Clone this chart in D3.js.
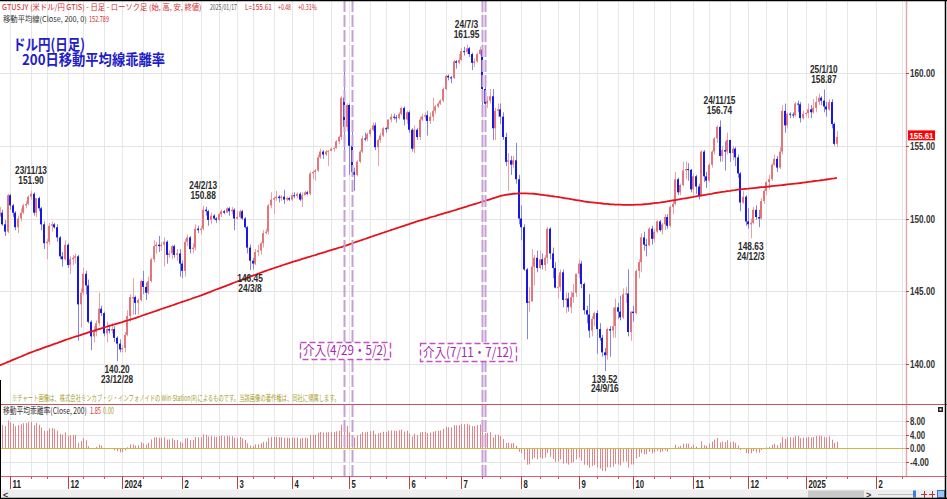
<!DOCTYPE html>
<html>
<head>
<meta charset="utf-8">
<title>ドル円(日足) 200日移動平均線乖離率</title>
<script src="https://d3js.org/d3.v7.min.js"></script>
<style>
  body { margin: 0; background: #fff; }
  #chart svg { display: block; }
  .jp { font-family: "Noto Sans CJK JP", sans-serif; }
  .num { font-family: "Liberation Sans", "DejaVu Sans", sans-serif; font-weight: bold; }
</style>
</head>
<body>
<div id="chart"></div>
<script>
// one value per weekday from firstDay to lastDay
const firstDay = "2023-10-26";
const lastDay = "2025-01-17";
const axisEnd = "2025-02-20"; // empty calendar days right of the last candle

const opens = [
  150.2, 150.4, 149.6, 149.1,
  151.6, 150.9, 150.4, 149.4, 150.0, 150.4, 150.9, 151.0, 151.5, 151.7, 150.4, 151.4, 150.7, 149.6, 148.3, 148.4, 149.5, 149.6, 149.4, 148.7, 147.4, 147.2,
  148.2, 146.8, 147.2, 147.3, 147.4, 144.1, 144.9, 146.2, 145.4, 142.9, 141.9, 142.2, 142.8, 143.8, 143.5, 142.1, 142.4, 142.3, 142.4, 141.8, 141.4,
  141.0, 141.1, 142.0, 143.3, 144.5, 144.6, 144.2, 144.4, 145.7, 145.3, 144.9, 145.7, 147.2, 148.1, 148.2, 148.1, 148.2, 148.4, 147.5, 147.6, 148.1, 147.5, 147.6,
  146.9, 146.4, 148.4, 148.7, 147.9, 148.0, 149.3, 149.2, 149.3, 150.6, 150.5, 149.9, 150.2, 150.0, 149.9, 150.3, 150.5, 150.4, 150.7, 150.5, 150.6,
  150.0, 150.1, 150.5, 150.0, 149.4, 148.0, 147.1, 146.9, 147.7, 147.8, 148.3, 149.0, 149.1, 150.9, 151.3, 151.4, 151.5, 151.4, 151.5, 151.3, 151.4,
  151.3, 151.6, 151.55, 151.7, 151.3, 151.6, 151.8, 151.7, 153.1, 153.2, 153.3, 154.2, 154.6, 154.4, 154.6, 154.65, 154.8, 154.85, 155.3, 155.6, 158.3, 156.3,
  157.8, 155.0, 153.2, 153.0, 153.9, 154.6, 155.5, 155.45, 155.8, 156.1, 156.4, 154.9, 155.4, 155.7, 156.2, 156.15, 156.8, 157.0, 156.95, 156.9, 157.2, 157.6, 156.8,
  157.3, 156.1, 154.8, 156.1, 155.6, 156.8, 157.0, 157.1, 156.7, 157.0, 157.4, 157.7, 157.9, 158.1, 158.9, 159.8, 159.7, 159.65, 160.8, 160.7,
  160.9, 161.5, 161.45, 161.7, 161.3, 160.7, 160.8, 161.3, 161.6, 158.9, 157.9, 158.1, 158.4, 156.2, 157.4, 157.5, 157.0, 155.6, 153.9, 154.0, 153.7, 154.0, 152.7,
  150.0, 149.4, 146.5, 144.2, 144.3, 146.7, 147.3, 146.6, 147.2, 146.8, 147.3, 149.3, 147.6, 146.6, 145.25, 145.3, 146.3, 144.4, 144.5, 143.9, 144.6, 144.9,
  146.2, 146.9, 145.5, 143.7, 143.4, 142.3, 143.1, 143.5, 142.4, 141.8, 140.8, 140.6, 142.4, 142.3, 142.6, 143.9, 143.6, 143.2, 144.8, 144.85, 142.2,
  143.6, 143.5, 146.4, 147.0, 148.7, 148.2, 148.15, 149.3, 148.6, 149.1, 149.8, 149.2, 149.6, 150.1, 149.5, 150.8, 151.0, 152.7, 151.8, 152.3, 153.3, 153.4, 153.35,
  152.0, 152.9, 152.2, 151.6, 154.6, 152.9, 152.6, 153.7, 154.6, 155.5, 156.3, 154.3, 154.7, 154.6, 155.4, 154.5, 154.8, 154.2, 153.1, 151.1, 151.5,
  149.8, 149.6, 149.7, 150.6, 150.1, 150.0, 151.2, 151.9, 152.5, 152.7, 153.7, 154.1, 153.5, 154.6, 157.4, 156.4, 157.2, 157.15, 157.1, 157.9, 157.85, 156.9,
  157.2, 157.25, 157.5, 157.3, 157.6, 158.0, 158.3, 158.1, 157.7, 157.5, 158.0, 156.5, 155.13
];
const highs = [
  150.8, 150.6, 149.9, 151.7,
  151.7, 151.0, 150.5, 150.2, 150.7, 151.0, 151.2, 151.6, 151.90, 151.8, 151.4, 151.5, 150.8, 149.8, 148.6, 149.7, 149.8, 149.7, 149.6, 148.8, 147.7, 148.5,
  148.3, 147.4, 147.5, 147.6, 147.5, 145.2, 146.6, 146.4, 145.8, 143.0, 142.6, 143.0, 144.9, 144.0, 143.6, 142.9, 142.6, 142.8, 142.6, 141.9, 141.7,
  141.3, 142.2, 143.7, 144.8, 145.9, 144.7, 144.5, 145.8, 146.4, 145.6, 146.0, 147.3, 148.5, 148.4, 148.8, 148.4, 148.7, 148.5, 147.8, 148.2, 148.2, 147.9, 147.9,
  147.1, 148.6, 148.9, 148.8, 148.3, 149.6, 149.5, 149.5, 150.88, 150.8, 150.6, 150.4, 150.3, 150.1, 150.4, 150.6, 150.6, 150.8, 150.8, 150.8, 150.7,
  150.5, 150.6, 150.6, 150.1, 149.5, 148.2, 147.3, 147.9, 148.2, 148.4, 149.2, 149.3, 151.0, 151.8, 151.5, 151.9, 151.6, 151.6, 151.97, 151.5, 151.5,
  151.8, 151.8, 151.8, 151.8, 151.8, 151.9, 151.9, 153.2, 153.3, 153.4, 154.4, 154.8, 154.7, 154.7, 154.7, 154.9, 154.9, 155.4, 155.7, 158.4, 160.2, 157.9,
  157.9, 156.0, 153.5, 154.0, 154.7, 155.7, 155.9, 155.9, 156.2, 156.6, 156.6, 155.5, 155.9, 156.3, 156.3, 156.8, 157.2, 157.2, 157.1, 157.3, 157.7, 157.7, 157.4,
  157.4, 156.2, 156.4, 156.2, 157.0, 157.2, 157.3, 157.4, 157.3, 158.3, 157.8, 158.0, 158.2, 159.0, 159.9, 159.9, 159.8, 160.9, 160.9, 161.3,
  161.7, 161.8, 161.95, 161.8, 161.4, 161.0, 161.4, 161.8, 161.8, 159.4, 158.4, 158.9, 158.9, 157.6, 157.9, 157.9, 157.3, 155.9, 154.5, 154.3, 154.3, 155.2, 153.0,
  150.9, 149.6, 146.6, 145.3, 147.9, 147.5, 147.8, 147.8, 147.6, 147.5, 149.4, 149.4, 148.0, 147.0, 146.1, 146.5, 146.5, 144.9, 144.9, 145.0, 145.5, 146.2,
  147.2, 147.1, 145.6, 144.0, 144.8, 143.3, 143.6, 143.7, 142.8, 142.0, 141.1, 142.5, 142.6, 143.9, 144.5, 144.2, 144.7, 145.2, 145.3, 146.5, 143.6,
  144.0, 146.5, 147.2, 149.0, 149.1, 148.6, 149.4, 149.5, 149.3, 149.9, 149.9, 149.7, 150.3, 150.3, 150.9, 151.2, 153.2, 152.8, 152.4, 153.9, 153.9, 153.8, 153.4,
  153.1, 153.0, 152.4, 154.7, 154.7, 153.2, 153.8, 154.7, 155.6, 156.4, 156.74, 155.0, 155.3, 155.9, 155.4, 155.0, 154.9, 154.4, 153.2, 151.9, 151.6,
  150.7, 150.0, 150.8, 150.9, 150.6, 151.4, 152.0, 152.6, 153.0, 153.8, 154.4, 154.3, 154.9, 157.8, 157.9, 157.3, 157.3, 157.3, 158.0, 158.1, 158.0, 157.4,
  157.3, 157.9, 157.8, 158.2, 158.4, 158.6, 158.4, 158.87, 158.0, 158.2, 158.2, 156.6, 156.0
];
const lows = [
  150.1, 149.5, 148.8, 149.0,
  150.6, 150.1, 149.2, 149.0, 149.8, 150.3, 150.7, 150.9, 151.3, 150.2, 150.1, 150.5, 149.2, 147.9, 147.2, 148.2, 149.1, 149.3, 148.4, 147.2, 146.7, 147.1,
  146.6, 146.2, 146.8, 146.9, 141.6, 142.5, 144.7, 144.8, 142.8, 140.95, 141.5, 141.9, 142.6, 143.3, 141.9, 141.5, 142.1, 142.1, 141.5, 140.2, 140.8,
  140.8, 140.8, 141.9, 142.9, 143.4, 143.4, 143.4, 144.3, 144.8, 144.4, 144.8, 145.6, 147.0, 147.6, 147.7, 147.8, 146.7, 146.9, 147.3, 147.2, 147.3, 147.1, 146.0,
  145.9, 146.0, 148.1, 147.6, 147.6, 147.8, 149.0, 148.9, 149.2, 150.2, 149.5, 149.6, 149.9, 149.7, 149.8, 150.1, 150.3, 150.4, 150.2, 150.3, 149.2,
  149.9, 150.0, 149.9, 149.3, 147.6, 146.45, 146.5, 146.8, 147.4, 147.5, 148.0, 148.9, 148.9, 150.7, 150.3, 151.2, 151.1, 151.2, 151.0, 151.2, 151.2,
  151.2, 151.4, 151.4, 151.2, 150.8, 151.6, 151.6, 151.6, 152.7, 152.6, 153.2, 154.1, 154.1, 154.3, 153.6, 154.6, 154.6, 154.8, 155.1, 155.4, 154.5, 156.0,
  153.0, 153.0, 151.9, 152.9, 153.8, 154.5, 155.3, 155.3, 155.6, 156.0, 154.7, 153.6, 155.2, 155.6, 155.9, 156.1, 156.6, 156.8, 156.6, 156.8, 157.1, 156.4, 156.5,
  155.9, 154.6, 154.5, 155.4, 155.4, 156.7, 156.8, 155.7, 156.5, 156.7, 157.2, 157.6, 157.8, 158.0, 158.8, 159.5, 159.3, 159.6, 160.3, 160.6,
  160.8, 161.2, 161.3, 161.1, 160.2, 160.4, 160.7, 161.2, 157.4, 157.4, 157.6, 157.9, 155.4, 155.4, 157.0, 156.5, 155.4, 153.6, 151.9, 153.0, 153.5, 152.4, 149.6,
  148.5, 146.4, 141.7, 143.6, 144.3, 145.4, 146.3, 146.5, 146.5, 146.4, 146.9, 147.2, 145.9, 145.2, 144.5, 145.0, 143.9, 143.5, 143.6, 143.5, 144.2, 144.6,
  145.9, 145.2, 143.4, 142.8, 141.8, 141.9, 142.6, 140.7, 141.6, 140.5, 139.52, 140.3, 140.5, 141.8, 141.8, 143.1, 143.0, 143.1, 144.2, 141.9, 141.6,
  142.9, 143.4, 145.9, 146.3, 147.8, 147.4, 148.1, 148.2, 148.4, 149.0, 149.1, 148.9, 149.2, 149.3, 149.4, 150.3, 150.9, 151.6, 151.6, 152.2, 152.7, 152.6, 151.8,
  151.6, 151.7, 151.3, 151.6, 152.5, 152.1, 152.5, 153.5, 154.4, 155.2, 153.9, 153.9, 153.3, 154.4, 153.9, 154.0, 153.6, 152.8, 150.5, 151.0, 149.5,
  149.3, 148.63, 149.6, 149.9, 149.4, 149.9, 151.0, 151.6, 152.0, 152.6, 153.6, 153.2, 153.4, 154.4, 155.9, 156.2, 156.9, 156.9, 157.0, 157.3, 156.6, 156.8,
  157.0, 156.9, 156.9, 157.2, 157.3, 157.8, 157.8, 157.3, 157.0, 157.4, 156.2, 155.0, 154.9
];
const closes = [
  150.4, 149.6, 149.1, 151.6,
  150.9, 150.4, 149.4, 150.0, 150.4, 150.9, 151.0, 151.5, 151.7, 150.4, 151.4, 150.7, 149.6, 148.3, 148.4, 149.5, 149.6, 149.4, 148.7, 147.4, 147.2, 148.2,
  146.8, 147.2, 147.3, 147.4, 144.1, 144.9, 146.2, 145.4, 142.9, 141.9, 142.2, 142.8, 143.8, 143.5, 142.1, 142.4, 142.3, 142.4, 141.8, 141.4, 141.0,
  141.1, 142.0, 143.3, 144.6, 144.6, 144.2, 144.4, 145.7, 145.3, 144.9, 145.7, 147.2, 148.1, 148.2, 148.1, 148.2, 148.4, 147.5, 147.6, 148.1, 147.5, 147.6, 146.9,
  146.4, 148.4, 148.7, 147.9, 148.0, 149.3, 149.2, 149.3, 150.6, 150.5, 149.9, 150.2, 150.0, 149.9, 150.3, 150.5, 150.4, 150.7, 150.5, 150.6, 150.0,
  150.1, 150.5, 150.0, 149.4, 148.0, 147.1, 146.9, 147.7, 147.8, 148.3, 149.0, 149.1, 150.9, 151.3, 151.4, 151.5, 151.4, 151.5, 151.3, 151.4, 151.3,
  151.6, 151.55, 151.7, 151.3, 151.6, 151.8, 151.7, 153.1, 153.2, 153.3, 154.2, 154.6, 154.4, 154.6, 154.65, 154.8, 154.85, 155.3, 155.6, 158.3, 156.3, 157.8,
  155.0, 153.2, 153.0, 153.9, 154.6, 155.5, 155.45, 155.8, 156.1, 156.4, 154.9, 155.4, 155.7, 156.2, 156.15, 156.8, 157.0, 156.95, 156.9, 157.2, 157.6, 156.8, 157.3,
  156.1, 154.8, 156.1, 155.6, 156.8, 157.0, 157.1, 156.7, 157.0, 157.4, 157.7, 157.9, 158.1, 158.9, 159.8, 159.7, 159.65, 160.8, 160.7, 160.9,
  161.5, 161.45, 161.7, 161.3, 160.7, 160.8, 161.3, 161.6, 158.9, 157.9, 158.1, 158.4, 156.2, 157.4, 157.5, 157.0, 155.6, 153.9, 154.0, 153.7, 154.0, 152.7, 150.0,
  149.4, 146.5, 144.2, 144.3, 146.7, 147.3, 146.6, 147.2, 146.8, 147.3, 149.3, 147.6, 146.6, 145.25, 145.3, 146.3, 144.4, 144.5, 143.9, 144.6, 144.9, 146.2,
  146.9, 145.5, 143.7, 143.4, 142.3, 143.1, 143.5, 142.4, 141.8, 140.8, 140.6, 142.4, 142.3, 142.6, 143.9, 143.6, 143.2, 144.8, 144.85, 142.2, 143.6,
  143.5, 146.4, 147.0, 148.7, 148.2, 148.15, 149.3, 148.6, 149.1, 149.8, 149.2, 149.6, 150.1, 149.5, 150.8, 151.0, 152.7, 151.8, 152.3, 153.3, 153.4, 153.35, 152.0,
  152.9, 152.2, 151.6, 154.6, 152.9, 152.6, 153.7, 154.6, 155.5, 156.3, 154.3, 154.7, 154.6, 155.4, 154.5, 154.8, 154.2, 153.1, 151.1, 151.5, 149.8,
  149.6, 149.7, 150.6, 150.1, 150.0, 151.2, 151.9, 152.5, 152.7, 153.7, 154.1, 153.5, 154.6, 157.4, 156.4, 157.2, 157.15, 157.1, 157.9, 157.85, 156.9, 157.2,
  157.25, 157.5, 157.3, 157.6, 158.0, 158.3, 158.1, 157.7, 157.5, 158.0, 156.5, 155.13, 155.61
];
// 200-day simple moving average of the close
const ma200 = [
  139.90, 139.98, 140.05, 140.13,
  140.20, 140.28, 140.35, 140.43, 140.50, 140.58, 140.65, 140.73, 140.80, 140.86, 140.93, 140.99, 141.06, 141.12, 141.19, 141.25, 141.31, 141.38, 141.44, 141.51, 141.57, 141.64,
  141.70, 141.76, 141.82, 141.88, 141.93, 141.99, 142.05, 142.11, 142.17, 142.23, 142.28, 142.34, 142.40, 142.45, 142.51, 142.56, 142.62, 142.67, 142.72, 142.78, 142.83,
  142.88, 142.94, 142.99, 143.05, 143.10, 143.16, 143.22, 143.28, 143.35, 143.41, 143.47, 143.53, 143.59, 143.65, 143.72, 143.78, 143.84, 143.90, 143.96, 144.02, 144.08, 144.15, 144.21,
  144.27, 144.33, 144.39, 144.45, 144.52, 144.58, 144.64, 144.70, 144.77, 144.84, 144.91, 144.98, 145.05, 145.12, 145.18, 145.25, 145.32, 145.39, 145.46, 145.53, 145.60,
  145.67, 145.73, 145.80, 145.87, 145.93, 146.00, 146.07, 146.13, 146.20, 146.27, 146.33, 146.40, 146.46, 146.52, 146.58, 146.64, 146.70, 146.76, 146.82, 146.88, 146.94,
  147.00, 147.05, 147.11, 147.16, 147.22, 147.27, 147.33, 147.38, 147.44, 147.49, 147.55, 147.60, 147.66, 147.71, 147.77, 147.82, 147.88, 147.93, 147.99, 148.04, 148.10, 148.16,
  148.22, 148.28, 148.35, 148.41, 148.47, 148.53, 148.59, 148.65, 148.72, 148.78, 148.84, 148.90, 148.96, 149.02, 149.08, 149.14, 149.20, 149.26, 149.32, 149.38, 149.44, 149.50, 149.56,
  149.62, 149.68, 149.74, 149.80, 149.85, 149.91, 149.96, 150.01, 150.07, 150.12, 150.17, 150.23, 150.28, 150.33, 150.39, 150.44, 150.49, 150.55, 150.60, 150.66,
  150.71, 150.77, 150.82, 150.88, 150.93, 150.99, 151.04, 151.10, 151.16, 151.21, 151.27, 151.32, 151.38, 151.43, 151.49, 151.55, 151.59, 151.62, 151.65, 151.68, 151.70, 151.71, 151.72,
  151.72, 151.72, 151.72, 151.71, 151.71, 151.70, 151.68, 151.65, 151.63, 151.60, 151.58, 151.55, 151.53, 151.50, 151.48, 151.45, 151.42, 151.39, 151.36, 151.33, 151.30, 151.27,
  151.24, 151.21, 151.18, 151.15, 151.13, 151.11, 151.09, 151.07, 151.05, 151.03, 151.01, 151.00, 150.98, 150.97, 150.96, 150.95, 150.95, 150.94, 150.94, 150.94, 150.94,
  150.94, 150.95, 150.95, 150.96, 150.98, 150.99, 151.01, 151.03, 151.05, 151.07, 151.09, 151.12, 151.15, 151.18, 151.21, 151.24, 151.27, 151.30, 151.33, 151.36, 151.39, 151.42, 151.45,
  151.48, 151.52, 151.55, 151.58, 151.61, 151.64, 151.67, 151.70, 151.74, 151.77, 151.80, 151.83, 151.85, 151.88, 151.90, 151.93, 151.95, 151.98, 152.00, 152.02, 152.04,
  152.05, 152.07, 152.09, 152.11, 152.13, 152.15, 152.16, 152.18, 152.20, 152.22, 152.24, 152.26, 152.28, 152.30, 152.32, 152.34, 152.36, 152.38, 152.40, 152.42, 152.44, 152.47,
  152.49, 152.51, 152.53, 152.56, 152.58, 152.60, 152.63, 152.65, 152.68, 152.71, 152.74, 152.76, 152.79
];

const priceTicks = [140, 145, 150, 155, 160];
const devTicks = [8, 4, 0, -4];
const monthTicks = ["2023-11-01", "2023-12-01", "2024-01-01", "2024-02-01", "2024-03-01", "2024-04-01", "2024-05-01", "2024-06-01",
  "2024-07-01", "2024-08-01", "2024-09-01", "2024-10-01", "2024-11-01", "2024-12-01", "2025-01-01", "2025-02-01"];
const monthNames = ["11", "12", "2024", "2", "3", "4", "5", "6", "7", "8", "9", "10", "11", "12", "2025", "2"];
const gridDays = ["11", "21"];

const markDays = ["2023-11-13", "2023-12-28", "2024-02-13", "2024-03-08", "2024-07-03", "2024-09-16", "2024-11-15", "2024-12-03", "2025-01-10"];
const markKinds = ["high", "low", "high", "low", "high", "low", "high", "low", "high"];
const markNames = ["23/11/13", "23/12/28", "24/2/13", "24/3/8", "24/7/3", "24/9/16", "24/11/15", "24/12/3", "25/1/10"];

const interventionDays = ["2024-04-29", "2024-05-02", "2024-07-11", "2024-07-12"];
const interventionNames = ["介入(4/29・5/2)", "介入(7/11・7/12)"];

// ---------------------------------------------------------------
const width = 947, height = 499;
const axisX = 906;          // right price axis
const sepY = 404;           // line between the two panels
const baseY = 476;          // date axis

const parse = d3.utcParse("%Y-%m-%d");
const tradeDays = d3.utcDay.range(parse(firstDay), d3.utcDay.offset(parse(lastDay), 1))
  .filter(d => d.getUTCDay() !== 0 && d.getUTCDay() !== 6);
const emptyDays = d3.utcDay.range(d3.utcDay.offset(parse(lastDay), 1), parse(axisEnd));
const allDays = tradeDays.concat(emptyDays);
const n = Math.min(tradeDays.length, opens.length, highs.length, lows.length, closes.length, ma200.length);

function dayIndex(s) {
  const t = parse(s);
  const i = allDays.findIndex(d => d >= t);
  return i < 0 ? allDays.length : i;
}

const bars = d3.range(n).map(i => ({
  i: i, o: opens[i], h: highs[i], l: lows[i], c: closes[i], ma: ma200[i],
  dev: (closes[i] - ma200[i]) / ma200[i] * 100
}));

const x = d3.scaleLinear().domain([0, 347.5]).range([-0.3, axisX]);
const yP = d3.scaleLinear().domain([140, 160]).range([364, 73]);
const yD = d3.scaleLinear().domain([-4, 8]).range([461.5, 421]);

const svg = d3.select("#chart").append("svg")
  .attr("width", width).attr("height", height);

svg.append("rect").attr("width", width).attr("height", height).attr("fill", "#fff");

const defs = svg.append("defs");
defs.append("clipPath").attr("id", "clipMain")
  .append("rect").attr("x", 0).attr("y", 0).attr("width", axisX).attr("height", sepY);
defs.append("clipPath").attr("id", "clipSub")
  .append("rect").attr("x", 0).attr("y", sepY).attr("width", axisX).attr("height", baseY - sepY);

// text squeezed horizontally to the narrow width the original bitmap font takes
function label(g, px, py, s, opt) {
  const holder = g.append("g");
  const t = holder.append("text").attr("x", 0).attr("y", 0).text(s)
    .attr("font-size", opt.size || 9).attr("fill", opt.fill || "#333");
  if (opt.cls) t.attr("class", opt.cls);
  if (opt.anchor) t.attr("text-anchor", opt.anchor);
  if (opt.weight) t.attr("font-weight", opt.weight);
  let sx = 1;
  if (opt.len) {
    const w = t.node().getComputedTextLength();
    if (w > 0) sx = opt.len / w;
  }
  holder.attr("transform", "translate(" + px + "," + py + ") scale(" + sx + ",1)");
  return holder;
}

// grid
const gridIdx = [];
monthTicks.forEach(m => {
  gridIdx.push(dayIndex(m));
  gridDays.forEach(dd => gridIdx.push(dayIndex(m.slice(0, 8) + dd)));
});
const gridX = gridIdx.map(i => x(i)).filter(v => v > 0 && v < axisX - 2);

const grid = svg.append("g");
grid.selectAll("line.v").data(gridX).join("line")
  .attr("x1", d => Math.round(d) + 0.5).attr("x2", d => Math.round(d) + 0.5)
  .attr("y1", 0).attr("y2", baseY).attr("stroke", "#e7e7e7");
grid.selectAll("line.hp").data(priceTicks).join("line")
  .attr("x1", 0).attr("x2", axisX).attr("y1", d => Math.round(yP(d)) + 0.5).attr("y2", d => Math.round(yP(d)) + 0.5)
  .attr("stroke", "#e4e4e4");
grid.selectAll("line.hd").data(devTicks.filter(d => d !== 0)).join("line")
  .attr("x1", 0).attr("x2", axisX).attr("y1", d => Math.round(yD(d)) + 0.5).attr("y2", d => Math.round(yD(d)) + 0.5)
  .attr("stroke", "#e4e4e4");

// candles
const main = svg.append("g").attr("clip-path", "url(#clipMain)");
const up = d => d.c >= d.o;
main.selectAll("rect.wick").data(bars).join("rect")
  .attr("x", d => Math.round(x(d.i)))
  .attr("width", 1)
  .attr("y", d => yP(d.h))
  .attr("height", d => Math.max(1, yP(d.l) - yP(d.h)))
  .attr("fill", d => up(d) ? "#eca2a4" : "#8383e8");
main.selectAll("rect.body").data(bars).join("rect")
  .attr("x", d => Math.round(x(d.i)) - 1)
  .attr("width", 2)
  .attr("y", d => Math.min(yP(d.o), yP(d.c)))
  .attr("height", d => Math.max(1, Math.abs(yP(d.o) - yP(d.c))))
  .attr("fill", d => up(d) ? "#e2767a" : "#1717e6");

// 200-day moving average
main.append("path").datum(bars)
  .attr("d", d3.line().x(d => x(d.i)).y(d => yP(d.ma)))
  .attr("fill", "none").attr("stroke", "#e5121c").attr("stroke-width", 1.8);

// deviation histogram
const sub = svg.append("g").attr("clip-path", "url(#clipSub)");
sub.selectAll("rect.dev").data(bars).join("rect")
  .attr("x", d => Math.round(x(d.i)))
  .attr("width", 1)
  .attr("y", d => Math.min(yD(0), yD(d.dev)))
  .attr("height", d => Math.abs(yD(d.dev) - yD(0)))
  .attr("fill", "#e48488");
sub.append("line").attr("x1", 0).attr("x2", axisX)
  .attr("y1", Math.round(yD(0)) + 0.5).attr("y2", Math.round(yD(0)) + 0.5)
  .attr("stroke", "#cbb84c").attr("stroke-width", 1.2);

// interventions
const intX = interventionDays.map(s => x(dayIndex(s)));
svg.selectAll("line.int").data(intX).join("line")
  .attr("x1", d => Math.round(d) + 0.5).attr("x2", d => Math.round(d) + 0.5)
  .attr("y1", 0).attr("y2", baseY)
  .attr("stroke", "#c6a0d4").attr("stroke-width", 2).attr("stroke-dasharray", "12,3");

const boxes = [
  { x: intX[0] - 44, y: 342, w: 90, h: 17, len: 84 },
  { x: intX[2] - 62, y: 343, w: 96, h: 18, len: 90 }
];
boxes.forEach((b, k) => {
  svg.append("rect").attr("x", Math.round(b.x) + 0.5).attr("y", b.y + 0.5).attr("width", b.w).attr("height", b.h)
    .attr("fill", "#fff").attr("stroke", "#c050c4").attr("stroke-width", 1.4).attr("stroke-dasharray", "6,3");
  label(svg, Math.round(b.x) + 3, b.y + b.h - 4, interventionNames[k],
    { cls: "jp", size: 13, fill: "#a22aaa", len: b.len });
});

// high / low annotations: one text element, two lines
markDays.forEach((s, k) => {
  const i = dayIndex(s);
  const cx = x(i);
  const isHigh = markKinds[k] === "high";
  const v = isHigh ? highs[i] : lows[i];
  const py = yP(v);
  const name = markNames[k], val = v.toFixed(2);
  const lines = isHigh ? [[name, -16.5], [val, -6.5]] : [[val, 12], [name, 21.5]];
  const holder = svg.append("g");
  const t = holder.append("text").attr("class", "num").attr("font-size", 10)
    .attr("fill", "#2a2a2a").attr("text-anchor", "middle");
  lines.forEach(l => t.append("tspan").attr("x", 0).attr("y", l[1]).text(l[0]));
  const w = t.node().getComputedTextLength();
  const sx = w > 0 ? 4.1 * (name.length + val.length) / w : 1;
  holder.attr("transform", "translate(" + cx + "," + py + ") scale(" + sx + ",1)");
});

// axes and frame lines
svg.append("line").attr("x1", axisX + 0.5).attr("x2", axisX + 0.5).attr("y1", 0).attr("y2", baseY)
  .attr("stroke", "#e2a9b1").attr("stroke-width", 1.5);
svg.append("line").attr("x1", 0).attr("x2", width).attr("y1", sepY + 0.5).attr("y2", sepY + 0.5)
  .attr("stroke", "#c9505e");
svg.append("line").attr("x1", 0).attr("x2", width).attr("y1", baseY + 0.5).attr("y2", baseY + 0.5)
  .attr("stroke", "#d9616e");

const axisG = svg.append("g");
priceTicks.forEach(v => {
  const py = Math.round(yP(v)) + 0.5;
  axisG.append("line").attr("x1", axisX).attr("x2", axisX + 3).attr("y1", py).attr("y2", py).attr("stroke", "#c04050");
  label(axisG, axisX + 4, py + 3.5, v.toFixed(2), { cls: "num", size: 10, fill: "#333", len: 25 });
});
devTicks.forEach(v => {
  const py = Math.round(yD(v)) + 0.5;
  axisG.append("line").attr("x1", axisX).attr("x2", axisX + 3).attr("y1", py).attr("y2", py).attr("stroke", "#c04050");
  const s = v.toFixed(2);
  label(axisG, axisX + 4, py + 3.5, s, { cls: "num", size: 10, fill: "#333", len: s.length * 3.8 });
});

// last price tag
const lastClose = closes[n - 1];
axisG.append("rect").attr("x", axisX + 2).attr("y", yP(lastClose) - 6.5).attr("width", 27).attr("height", 10).attr("fill", "#ff0000");
label(axisG, axisX + 3.5, yP(lastClose) + 2, lastClose.toFixed(2), { cls: "num", size: 9, fill: "#fff", len: 24, weight: "normal" });

// date axis
gridIdx.forEach(i => {
  const gx = x(i);
  if (gx <= 0 || gx >= axisX) return;
  axisG.append("line").attr("x1", Math.round(gx) + 0.5).attr("x2", Math.round(gx) + 0.5)
    .attr("y1", baseY).attr("y2", baseY + 3).attr("stroke", "#d05664");
});
monthTicks.forEach((m, k) => {
  const gx = Math.round(x(dayIndex(m))) + 0.5;
  axisG.append("line").attr("x1", gx).attr("x2", gx).attr("y1", baseY).attr("y2", 489).attr("stroke", "#b84050");
  const s = monthNames[k];
  label(axisG, gx + 2, 487.5, s, { cls: "num", size: 10, fill: "#222", len: s.length * 4.3 });
});

// header texts
const head = svg.append("g");
label(head, 2, 10, "GTUSJY (米ドル/円 GTIS) - 日足 - ローソク足 (始, 高, 安, 終値)", { cls: "jp", size: 8, fill: "#d2282a", len: 200 });
label(head, 210, 10, "2025/01/17", { cls: "jp", size: 8, fill: "#555", len: 27 });
label(head, 245, 10, "L=155.61", { cls: "jp", size: 8, fill: "#d2282a", len: 27 });
label(head, 278, 10, "+0.48", { cls: "jp", size: 8, fill: "#d2282a", len: 13 });
label(head, 298, 10, "+0.31%", { cls: "jp", size: 8, fill: "#d2282a", len: 19 });
label(head, 3, 22, "移動平均線(Close, 200, 0)", { cls: "jp", size: 8, fill: "#333", len: 84 });
label(head, 89, 22, "152.789", { cls: "jp", size: 8, fill: "#d2282a", len: 20 });

// two-line blue title as one text element
const title = head.append("text").attr("class", "jp").attr("font-size", 15)
  .attr("font-weight", "bold").attr("fill", "#1e20c6");
title.append("tspan").attr("x", 13).attr("y", 50).attr("textLength", 72)
  .attr("lengthAdjust", "spacingAndGlyphs").text("ドル円(日足)");
title.append("tspan").attr("x", 22).attr("y", 65).attr("textLength", 143)
  .attr("lengthAdjust", "spacingAndGlyphs").text("200日移動平均線乖離率");

label(head, 12, 401, "※チャート画像は、株式会社ミンカブ・ジ・インフォノイドの Win-Station(R)によるものです。当該画像の著作権は、同社に帰属します。",
  { cls: "jp", size: 8, fill: "#a8a02a", len: 328 });
label(head, 3, 414, "移動平均乖離率(Close, 200)", { cls: "jp", size: 9, fill: "#333", len: 84 });
label(head, 90, 414, bars[n - 1].dev.toFixed(2), { cls: "jp", size: 9, fill: "#d2282a", len: 11 });
label(head, 103, 414, "0.00", { cls: "jp", size: 9, fill: "#a8a02a", len: 11 });

// small panel icon
svg.append("rect").attr("x", 938).attr("y", 407).attr("width", 5).attr("height", 5).attr("fill", "#222");
svg.append("rect").attr("x", 939.5).attr("y", 408.5).attr("width", 2).attr("height", 2).attr("fill", "#fff");

// scroll bar
const sb = svg.append("g");
sb.append("rect").attr("x", 0).attr("y", 489.5).attr("width", width).attr("height", 9).attr("fill", "#eeeeee");
label(sb, 3, 497.5, "<", { cls: "num", size: 9, fill: "#333" });
sb.append("rect").attr("x", 808).attr("y", 490.5).attr("width", 56).attr("height", 7).attr("fill", "#c9c9c9");
label(sb, 866, 497.5, ">", { cls: "num", size: 9, fill: "#333" });
sb.append("line").attr("x1", 878).attr("x2", 916).attr("y1", 494.5).attr("y2", 494.5).attr("stroke", "#bdbdbd");
sb.append("rect").attr("x", 913).attr("y", 490.5).attr("width", 3).attr("height", 7).attr("fill", "#3a7ee0");
[921, 929].forEach(ix => {
  sb.append("line").attr("x1", ix).attr("x2", ix + 6).attr("y1", 494.5).attr("y2", 494.5).attr("stroke", "#c03040");
  sb.append("line").attr("x1", ix + 3.5).attr("x2", ix + 3.5).attr("y1", 491).attr("y2", 498).attr("stroke", "#c03040");
});
sb.append("rect").attr("x", 937.5).attr("y", 490.5).attr("width", 7).attr("height", 7).attr("fill", "#9fc4ee").attr("stroke", "#3a70c0");

// outer frame
svg.append("line").attr("x1", 0).attr("x2", width).attr("y1", 0.5).attr("y2", 0.5).attr("stroke", "#000").attr("stroke-width", 1.5);
svg.append("line").attr("x1", width - 1.5).attr("x2", width - 1.5).attr("y1", 0).attr("y2", height).attr("stroke", "#000").attr("stroke-width", 1.5);
svg.append("line").attr("x1", 0).attr("x2", width).attr("y1", height - 0.5).attr("y2", height - 0.5).attr("stroke", "#000").attr("stroke-width", 1.5);
svg.append("line").attr("x1", 0.5).attr("x2", 0.5).attr("y1", 380).attr("y2", height).attr("stroke", "#000");
</script>
</body>
</html>
